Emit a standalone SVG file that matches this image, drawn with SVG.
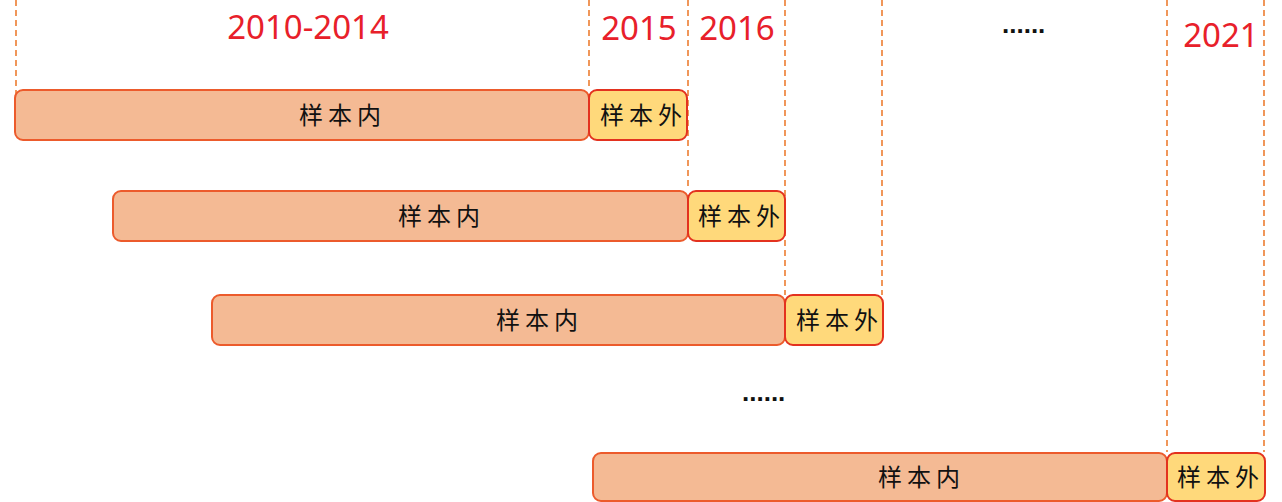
<svg xmlns="http://www.w3.org/2000/svg" width="1282" height="502" viewBox="0 0 1282 502">
<style>
.guide{stroke:#ED7D31;stroke-width:1.6;stroke-dasharray:6 4;fill:none}
.in{fill:#F4BA94;stroke:#EC5B2C;stroke-width:2}
.out{fill:#FFD97B;stroke:#E3321F;stroke-width:2}
.yr{font-family:"Noto Sans","Open Sans",sans-serif;font-size:33px;fill:#E8202A;text-anchor:middle}
.lbl{font-family:"Noto Sans CJK SC","Noto Sans CJK TC",sans-serif;font-size:24px;fill:#111;letter-spacing:5px}
.dots{font-family:"Liberation Sans",sans-serif;font-size:26px;fill:#111;font-weight:bold}
</style>
<rect width="1282" height="502" fill="#fff"/>
<g id="connectors">
<line class="guide" x1="16" y1="0" x2="16" y2="140"/>
<line class="guide" x1="589" y1="0" x2="589" y2="90"/>
<line class="guide" x1="688" y1="0" x2="688" y2="190"/>
<line class="guide" x1="785" y1="0" x2="785" y2="295"/>
<line class="guide" x1="882" y1="0" x2="882" y2="295"/>
<line class="guide" x1="1167" y1="0" x2="1167" y2="452"/>
<line class="guide" x1="1264" y1="0" x2="1264" y2="452"/>
</g>
<g id="years">
<text class="yr" x="308" y="39">2010-2014</text>
<text class="yr" x="639" y="40">2015</text>
<text class="yr" x="737" y="40">2016</text>
<text class="dots" x="1002" y="33">......</text>
<text class="yr" x="1221" y="47">2021</text>
<text class="dots" x="742" y="401">......</text>
</g>
<g id="row1">
<rect class="in" x="15" y="90" width="574" height="50" rx="8"/>
<text class="lbl" x="299" y="124">样本内</text>
<rect class="out" x="589" y="90" width="98" height="50" rx="8"/>
<text class="lbl" x="600" y="124">样本外</text>
</g>
<g id="row2">
<rect class="in" x="113" y="191" width="575" height="50" rx="8"/>
<text class="lbl" x="398" y="225">样本内</text>
<rect class="out" x="688" y="191" width="97" height="50" rx="8"/>
<text class="lbl" x="698" y="225">样本外</text>
</g>
<g id="row3">
<rect class="in" x="212" y="295" width="573" height="50" rx="8"/>
<text class="lbl" x="496" y="329">样本内</text>
<rect class="out" x="785" y="295" width="98" height="50" rx="8"/>
<text class="lbl" x="796" y="329">样本外</text>
</g>
<g id="row4">
<rect class="in" x="593" y="453" width="574" height="48" rx="8"/>
<text class="lbl" x="878" y="486">样本内</text>
<rect class="out" x="1167" y="453" width="98" height="48" rx="8"/>
<text class="lbl" x="1177" y="486">样本外</text>
</g>
</svg>
